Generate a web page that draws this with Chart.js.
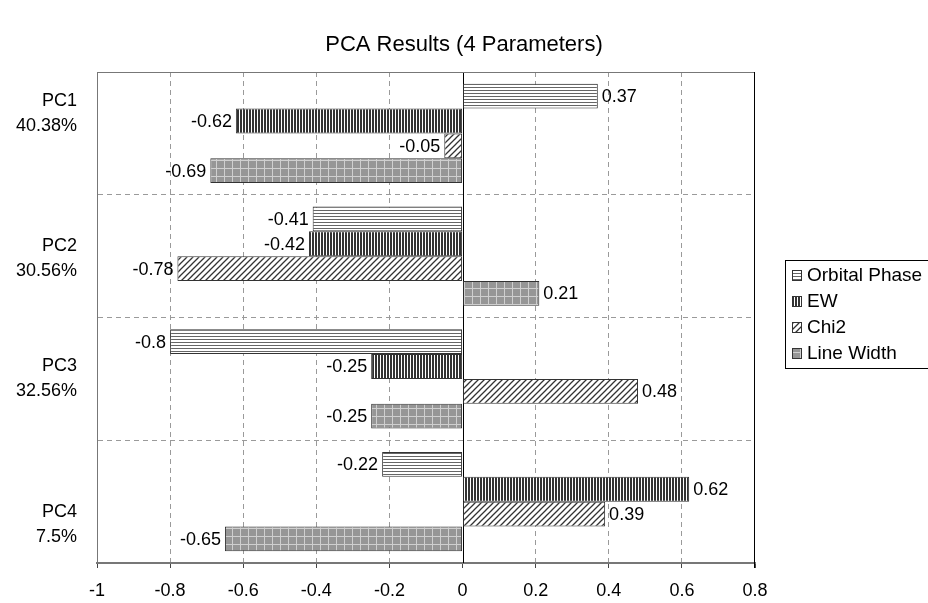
<!DOCTYPE html>
<html>
<head>
<meta charset="utf-8">
<script src="https://cdn.jsdelivr.net/npm/chart.js@4/dist/chart.umd.min.js"></script>
<style>
  html, body { margin: 0; padding: 0; background: #fff; }
  #wrap { width: 928px; height: 603px; }
</style>
</head>
<body>
<div id="wrap"><canvas id="pca"></canvas></div>
<script>
const components = ["PC1", "PC2", "PC3", "PC4"];
const variance = ["40.38%", "30.56%", "32.56%", "7.5%"];
const seriesNames = ["Orbital Phase", "EW", "Chi2", "Line Width"];
const orbitalPhase = [0.37, -0.41, -0.8, -0.22];
const ew = [-0.62, -0.42, -0.25, 0.62];
const chi2 = [-0.05, -0.78, 0.48, 0.39];
const lineWidth = [-0.69, 0.21, -0.25, -0.65];
const xTicks = [-1, -0.8, -0.6, -0.4, -0.2, 0, 0.2, 0.4, 0.6, 0.8];
const chartTitle = "PCA Results (4 Parameters)";

const FONT = "'Liberation Sans', Arial, sans-serif";

// little tiles used as fill patterns
function tile(w, h, draw) {
  const c = document.createElement("canvas");
  c.width = w; c.height = h;
  const g = c.getContext("2d");
  draw(g, w, h);
  return c;
}
const tiles = {
  hlines: tile(3, 3, (g) => { g.fillStyle = "#fff"; g.fillRect(0, 0, 3, 3); g.fillStyle = "#666"; g.fillRect(0, 0, 3, 1); }),
  vlines: tile(3, 3, (g) => { g.fillStyle = "#fff"; g.fillRect(0, 0, 3, 3); g.fillStyle = "#333"; g.fillRect(0, 0, 2, 3); }),
  diag: tile(6, 6, (g) => {
    g.fillStyle = "#fff"; g.fillRect(0, 0, 6, 6);
    g.strokeStyle = "#333"; g.lineWidth = 1.3;
    g.beginPath();
    g.moveTo(-1, 7); g.lineTo(7, -1);
    g.moveTo(-1, 1); g.lineTo(1, -1);
    g.moveTo(5, 7); g.lineTo(7, 5);
    g.stroke();
  }),
  grid: tile(8, 8, (g) => { g.fillStyle = "#969696"; g.fillRect(0, 0, 8, 8); g.fillStyle = "#cfcfcf"; g.fillRect(0, 0, 8, 1); g.fillRect(0, 0, 1, 8); })
};
const ctx = document.getElementById("pca").getContext("2d");
const pat = (k) => ctx.createPattern(tiles[k], "repeat");
const fills = [pat("hlines"), pat("vlines"), pat("diag"), pat("grid")];

const datasets = [orbitalPhase, ew, chi2, lineWidth].map((d, i) => ({
  label: seriesNames[i],
  data: d,
  backgroundColor: fills[i],
  borderColor: "#333",
  borderWidth: 1,
  borderSkipped: false,
  categoryPercentage: 0.81,
  barPercentage: 1.0
}));

// labels on bar ends, zero line, frame, category labels, title and legend
const extras = {
  id: "extras",
  beforeDatasetsDraw(chart) {
    const { ctx, chartArea: a, scales: { x } } = chart;
    const x0 = Math.round(x.getPixelForValue(0)) + 0.5;
    ctx.save();
    ctx.strokeStyle = "#000";
    ctx.lineWidth = 1;
    ctx.beginPath(); ctx.moveTo(x0, a.top); ctx.lineTo(x0, a.bottom); ctx.stroke();
    ctx.restore();
  },
  afterDatasetsDraw(chart) {
    const { ctx, chartArea: a, scales: { x, y } } = chart;
    ctx.save();
    ctx.font = "18px " + FONT;
    ctx.fillStyle = "#000";
    ctx.textBaseline = "middle";
    chart.data.datasets.forEach((ds, di) => {
      chart.getDatasetMeta(di).data.forEach((bar, i) => {
        const v = ds.data[i];
        if (v >= 0) { ctx.textAlign = "left"; ctx.fillText(String(v), bar.x + 4, bar.y + 1); }
        else { ctx.textAlign = "right"; ctx.fillText(String(v), bar.x - 4, bar.y + 1); }
      });
    });
    // frame top and right
    ctx.lineWidth = 1;
    ctx.strokeStyle = "#777";
    ctx.beginPath(); ctx.moveTo(a.left, a.top + 0.5); ctx.lineTo(a.right, a.top + 0.5); ctx.stroke();
    const xr = Math.round(x.getPixelForValue(0.8)) - 0.5;
    ctx.strokeStyle = "#000";
    ctx.beginPath(); ctx.moveTo(xr, a.top); ctx.lineTo(xr, a.bottom + 5); ctx.stroke();

    // category labels (two lines, right aligned)
    const shift = [-20, 2, -1, 22];
    ctx.textAlign = "right";
    components.forEach((c, i) => {
      const cy = y.getPixelForValue(i) + shift[i];
      ctx.fillText(c, a.left - 20, cy - 12);
      ctx.fillText(variance[i], a.left - 20, cy + 13);
    });

    // title, centred on the whole canvas
    ctx.font = "22px " + FONT;
    ctx.textAlign = "center";
    ctx.fillText(chartTitle, chart.width / 2, 45);

    // legend
    const lx = 785, ly = 260;
    ctx.font = "19px " + FONT;
    ctx.strokeStyle = "#000";
    ctx.strokeRect(lx + 0.5, ly + 0.5, 160, 108);
    chart.data.datasets.forEach((ds, i) => {
      const ry = ly + 15 + i * 26;
      ctx.fillStyle = ds.backgroundColor;
      ctx.fillRect(792, ry - 5, 10, 11);
      ctx.strokeStyle = "#333";
      ctx.strokeRect(792.5, ry - 4.5, 9, 10);
      ctx.fillStyle = "#000";
      ctx.textAlign = "left";
      ctx.fillText(ds.label, 807, ry + 1);
    });
    ctx.restore();
  }
};

new Chart(ctx, {
  type: "bar",
  data: { labels: components, datasets },
  plugins: [extras],
  options: {
    indexAxis: "y",
    responsive: true,
    maintainAspectRatio: false,
    animation: false,
    layout: { padding: { left: 0, right: 173, top: 72, bottom: 0 } },
    plugins: {
      legend: { display: false },
      tooltip: { enabled: false },
      title: { display: false }
    },
    scales: {
      x: {
        min: -1,
        max: 0.8,
        afterFit: (s) => { s.height = 40; },
        afterBuildTicks: (s) => { s.ticks = xTicks.map(v => ({ value: v })); },
        ticks: {
          color: "#000",
          font: { family: FONT, size: 18 },
          padding: 12,
          maxRotation: 0,
          callback: (v) => String(Number(v.toFixed(1)))
        },
        grid: {
          color: (c) => (c.tick && (c.tick.value === 0 || c.tick.value === 0.8) ? "rgba(0,0,0,0)" : "#9a9a9a"),
          lineWidth: 1,
          tickLength: 5,
          tickColor: "#444",
          tickBorderDash: []
        },
        border: { color: "#777", width: 2, dash: [5, 4] }
      },
      y: {
        afterFit: (s) => { s.width = 97; },
        ticks: { display: false },
        grid: { offset: true, color: "#9a9a9a", drawTicks: false },
        border: { color: "#777", width: 1, dash: [5, 4] }
      }
    }
  }
});
</script>
</body>
</html>
